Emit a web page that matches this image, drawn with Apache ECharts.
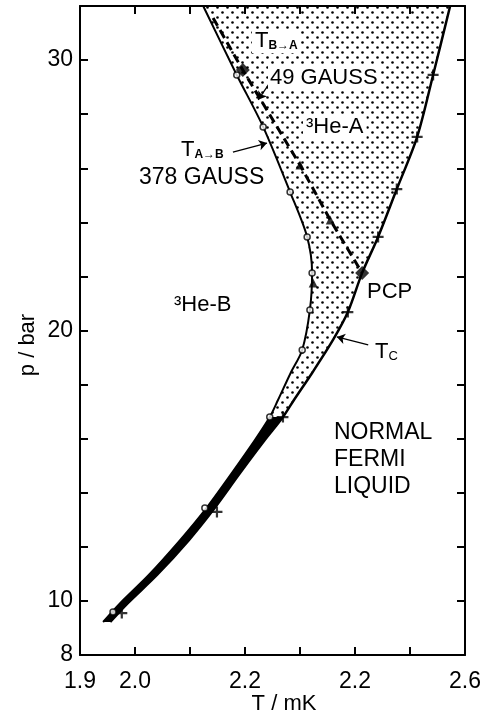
<!DOCTYPE html>
<html>
<head>
<meta charset="utf-8">
<script src="https://cdn.jsdelivr.net/npm/echarts@6/dist/echarts.min.js"></script>
<style>
  html, body { margin: 0; padding: 0; background: #fff; }
  #chart { width: 486px; height: 727px; }
</style>
</head>
<body>
<div id="chart"></div>
<script>
// Tc line (normal -> superfluid), top to bottom
const tcT = [2.573, 2.542, 2.513, 2.476, 2.442, 2.413, 2.387, 2.360, 2.322, 2.289, 2.269, 2.236, 2.191, 2.142, 2.098, 2.040, 1.987, 1.955];
const tcP = [32.0, 29.45, 27.16, 25.23, 23.46, 22.13, 20.68, 19.65, 18.43, 17.43, 16.80, 15.95, 14.73, 13.36, 12.25, 10.96, 9.92, 9.22];
// A -> B transition at 378 gauss
const abT = [2.124, 2.185, 2.233, 2.282, 2.313, 2.322, 2.318, 2.304, 2.283, 2.260, 2.245, 2.218, 2.176, 2.127, 2.082, 2.025, 1.973, 1.942];
const abP = [32.0, 29.45, 27.53, 25.12, 23.46, 22.13, 20.76, 19.28, 18.43, 17.43, 16.80, 15.95, 14.73, 13.36, 12.25, 10.96, 9.92, 9.22];
// B -> A transition at 49 gauss (dashed)
const baT = [2.142, 2.196, 2.300, 2.355, 2.413];
const baP = [31.56, 29.63, 26.12, 24.09, 22.13];

// measured points
const tcPoints = [[2.542, 29.45], [2.513, 27.16], [2.476, 25.23], [2.442, 23.46], [2.387, 20.68], [2.269, 16.80], [2.149, 13.29], [1.976, 9.55]];
const abPoints = [[2.185, 29.45], [2.233, 27.53], [2.282, 25.12], [2.313, 23.46], [2.322, 22.13], [2.318, 20.76], [2.304, 19.28], [2.245, 16.80], [2.127, 13.44], [1.960, 9.59]];
const baPoints = [[2.300, 26.12], [2.355, 24.09], [2.324, 21.76]];
const bigPoints = [[2.196, 29.63], [2.413, 22.13]];

// annotation arrows [fromT, fromP, toT, toP]
const arrows = [
  [2.424, 19.47, 2.367, 19.76],
  [2.178, 26.60, 2.240, 26.93],
  [2.245, 29.16, 2.224, 28.53]
];

// tick labels
const xLabelAt = [1.9, 2.0, 2.2, 2.4, 2.6];
const xLabelText = ['1.9', '2.0', '2.2', '2.2', '2.6'];
const yLabelAt = [8, 10, 20, 30];

const splitP = 16.8; // below this the two lines run as one band

const FONT = '"Liberation Sans", Arial, sans-serif';

// stipple pattern for the A-phase region
const dots = document.createElement('canvas');
dots.width = 10;
dots.height = 10;
const dctx = dots.getContext('2d');
dctx.fillStyle = '#000';
[[2.5, 2.5], [7.5, 7.5]].forEach(function (d) {
  dctx.beginPath();
  dctx.arc(d[0], d[1], 1.3, 0, Math.PI * 2);
  dctx.fill();
});

function pairs(t, p) {
  return t.map(function (v, i) { return [v, p[i]]; });
}

function labelFor(v, at, text) {
  for (let i = 0; i < at.length; i++) {
    if (Math.abs(v - at[i]) < 1e-6) return text[i];
  }
  return '';
}

function txt(x, y, style) {
  return {
    type: 'text', x: x, y: y, z: 100,
    style: Object.assign({ fill: '#000', fontSize: 22, fontFamily: FONT, verticalAlign: 'middle' }, style)
  };
}

const subRich = {
  t: { fontSize: 22, fontFamily: FONT },
  s: { fontSize: 12, fontWeight: 'bold', fontFamily: FONT, verticalAlign: 'bottom' }
};

const chart = echarts.init(document.getElementById('chart'));

const axisLine = { lineStyle: { color: '#000', width: 2 } };
const tick = { inside: true, length: 8, lineStyle: { color: '#000', width: 2 } };

const option = {
  animation: false,
  backgroundColor: '#fff',
  grid: { left: 80, right: 21, top: 6, bottom: 72 },
  xAxis: [
    {
      type: 'value', min: 1.9, max: 2.6, interval: 0.1,
      axisLine: axisLine, axisTick: tick, splitLine: { show: false },
      axisLabel: {
        color: '#000', fontSize: 23, fontFamily: FONT, margin: 15,
        showMinLabel: true, showMaxLabel: true,
        formatter: function (v) { return labelFor(v, xLabelAt, xLabelText); }
      }
    },
    {
      type: 'value', position: 'top', min: 1.9, max: 2.6, interval: 0.1,
      axisLine: axisLine, axisTick: tick, axisLabel: { show: false }, splitLine: { show: false }
    }
  ],
  yAxis: [
    {
      type: 'value', min: 8, max: 32, interval: 2,
      axisLine: axisLine, axisTick: tick, splitLine: { show: false },
      axisLabel: {
        color: '#000', fontSize: 23, fontFamily: FONT, margin: 7,
        showMinLabel: true,
        formatter: function (v) { return yLabelAt.indexOf(v) >= 0 ? String(v) : ''; }
      }
    },
    {
      type: 'value', position: 'right', min: 8, max: 32, interval: 2,
      axisLine: axisLine, axisTick: tick, axisLabel: { show: false }, splitLine: { show: false }
    }
  ],
  graphic: [
    txt(252, 41, { text: '{t|T}{s|B\u2192A}', rich: subRich, backgroundColor: '#fff', padding: [1, 3] }),
    txt(268, 78, { text: '49 GAUSS', backgroundColor: '#fff', padding: [1, 2] }),
    txt(303, 127, { text: '\u00b3He-A', backgroundColor: '#fff', padding: [1, 3] }),
    txt(181, 150, { text: '{t|T}{s|A\u2192B}', rich: subRich }),
    txt(139, 178, { text: '378 GAUSS', fontSize: 23 }),
    txt(174, 305, { text: '\u00b3He-B' }),
    txt(367, 292, { text: 'PCP' }),
    txt(375, 352, { text: '{t|T}{s|C}', rich: { t: subRich.t, s: { fontSize: 13, fontFamily: FONT, verticalAlign: 'bottom' } } }),
    txt(334, 460, { text: 'NORMAL\nFERMI\nLIQUID', fontSize: 23, lineHeight: 27 }),
    txt(284, 704, { text: 'T / mK', align: 'center' }),
    { type: 'text', x: 28, y: 345, rotation: Math.PI / 2, z: 100,
      style: { text: 'p / bar', fill: '#000', fontSize: 22, fontFamily: FONT, align: 'center', verticalAlign: 'middle' } }
  ],
  series: [
    {
      // stippled A-phase region and the merged band below it
      type: 'custom',
      clip: true,
      data: [[2.2, 20]],
      z: 1,
      renderItem: function (params, api) {
        const top = [];
        const band = [];
        tcT.forEach(function (t, i) {
          if (tcP[i] >= splitP) top.push(api.coord([t, tcP[i]]));
          if (tcP[i] <= splitP) band.push(api.coord([t, tcP[i]]));
        });
        for (let i = abT.length - 1; i >= 0; i--) {
          if (abP[i] >= splitP) top.push(api.coord([abT[i], abP[i]]));
          if (abP[i] <= splitP) band.push(api.coord([abT[i], abP[i]]));
        }
        return {
          type: 'group',
          children: [
            { type: 'polygon', shape: { points: top }, style: { fill: { image: dots, repeat: 'repeat' } } },
            { type: 'polygon', shape: { points: band }, style: { fill: '#000' } }
          ]
        };
      }
    },
    {
      name: 'Tc', type: 'line', data: pairs(tcT, tcP), smooth: 0.3, showSymbol: false,
      lineStyle: { color: '#000', width: 2.5 }, z: 3,
      markLine: {
        silent: true, symbol: ['none', 'arrow'], symbolSize: 8,
        lineStyle: { color: '#000', width: 1.3, type: 'solid' }, label: { show: false },
        data: arrows.map(function (a) { return [{ coord: [a[0], a[1]] }, { coord: [a[2], a[3]] }]; })
      }
    },
    {
      name: 'A-B 378 G', type: 'line', data: pairs(abT, abP), smooth: 0.3, showSymbol: false,
      lineStyle: { color: '#000', width: 2 }, z: 3
    },
    {
      name: 'B-A 49 G', type: 'line', data: pairs(baT, baP), showSymbol: false,
      lineStyle: { color: '#000', width: 3, type: [9, 5] }, z: 3
    },
    {
      type: 'scatter', data: tcPoints, z: 4,
      symbol: 'path://M4,0H6V4H10V6H6V10H4V6H0V4H4Z', symbolSize: 11,
      itemStyle: { color: '#000' }
    },
    {
      type: 'scatter', data: abPoints, z: 4, symbol: 'circle', symbolSize: 6,
      itemStyle: { color: '#fff', borderColor: '#000', borderWidth: 1.5 }
    },
    {
      type: 'scatter', data: baPoints, z: 4, symbol: 'triangle', symbolSize: 9,
      itemStyle: { color: '#000' }
    },
    {
      type: 'scatter', data: bigPoints, z: 4, symbol: 'diamond', symbolSize: 14,
      itemStyle: { color: '#000' }
    }
  ]
};

chart.setOption(option);
</script>
</body>
</html>
